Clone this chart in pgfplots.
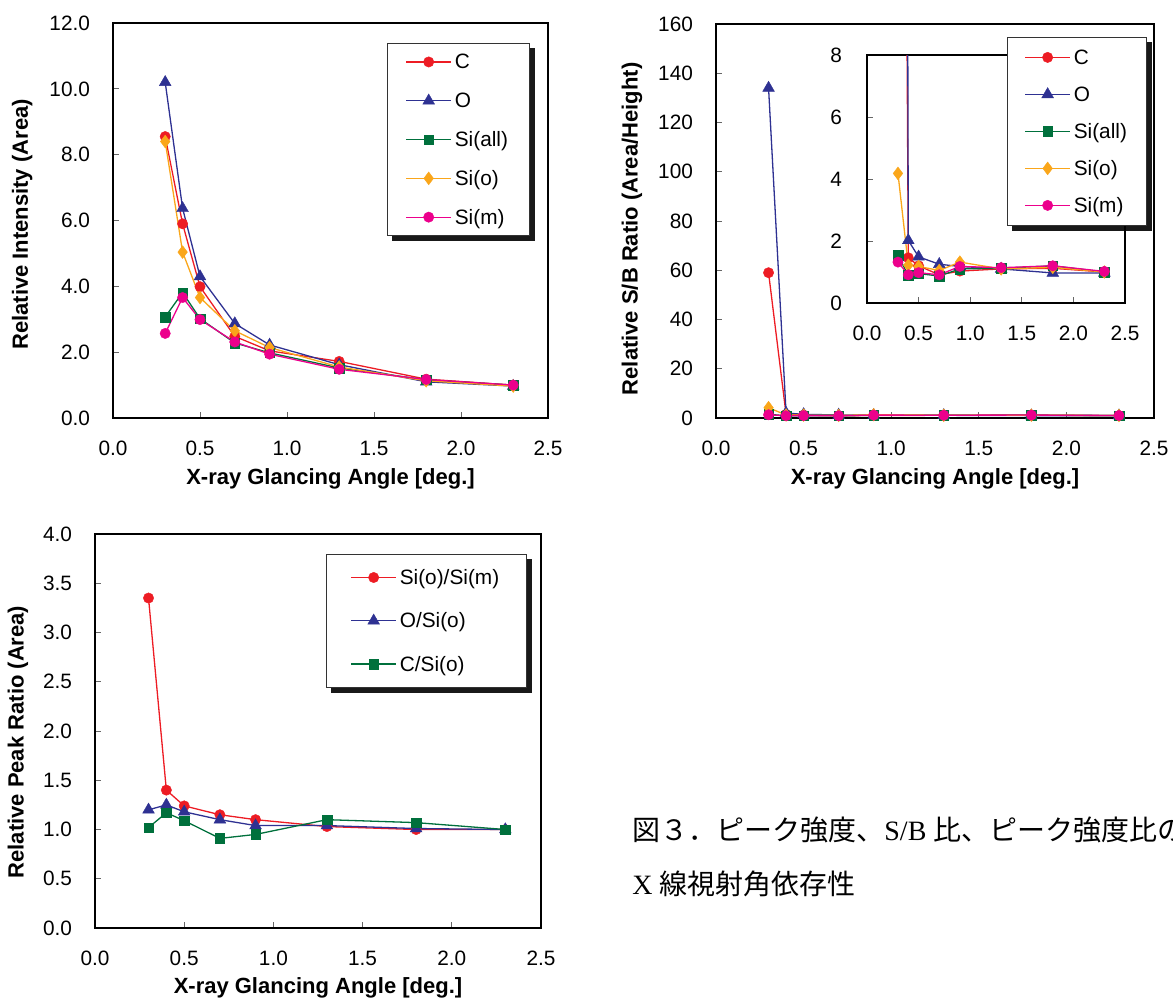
\documentclass[border=0pt]{standalone}
\usepackage{fontspec}
\setmainfont{Liberation Sans}
\newfontfamily\cjk{Noto Sans CJK JP}
\newfontfamily\latserif{Liberation Serif}
\usepackage{pgfplots}
\pgfplotsset{compat=1.18}
\usepackage{pgfplotstable}
\pgfdeclarelayer{background}
\pgfsetlayers{background,main}
\pgfkeys{/pgf/number format/assume math mode=true}

\definecolor{cC}{RGB}{237,28,36}
\definecolor{cO}{RGB}{46,49,146}
\definecolor{cSa}{RGB}{0,112,60}
\definecolor{cSo}{RGB}{250,166,26}
\definecolor{cSm}{RGB}{236,0,140}

\pgfplotstableread{
x   C     O     Sa    So    Sm
0.3 8.55 10.20 3.07 8.40 2.57
0.4 5.90  6.37 3.81 5.04 3.66
0.5 3.99  4.30 3.02 3.66 2.99
0.7 2.48  2.87 2.28 2.65 2.31
0.9 2.04  2.22 1.98 2.14 1.94
1.3 1.72  1.62 1.52 1.55 1.48
1.8 1.18  1.10 1.16 1.13 1.17
2.3 1.00  0.97 1.00 0.97 1.00
}\tabI

\pgfplotstableread{
x   C     O      Sa    So    Sm
0.3 59.0 134.0  1.54  4.18  1.32
0.4 1.46  2.02  0.89  1.22  0.91
0.5 1.20  1.49  0.95  1.18  0.98
0.7 0.91  1.25  0.87  1.05  0.91
0.9 1.03  1.18  1.10  1.32  1.18
1.3 1.10  1.10  1.12  1.10  1.14
1.8 1.12  0.97  1.20  1.15  1.20
2.3 1.00  0.97  1.00  1.00  1.02
}\tabSB

\pgfplotstableread{
x   A     B     Cc
0.3 3.35  1.20  1.02
0.4 1.40  1.25  1.17
0.5 1.24  1.18  1.09
0.7 1.15  1.10  0.91
0.9 1.10  1.04  0.95
1.3 1.03  1.04  1.10
1.8 1.00  1.01  1.07
2.3 1.00  1.00  1.00
}\tabR

\pgfplotsset{
  base/.style={
    scale only axis, axis line style={line width=0.75pt,black},
    tick align=inside, xtick pos=bottom, ytick pos=left, major tick length=3pt,
    tick style={gray!80!black, line width=0.5pt},
    xmin=0, xmax=2.5, xtick={0,0.5,1,1.5,2,2.5},
    tick label style={font=\fontsize{10.4}{12}\selectfont},
    x tick label style={yshift=-8pt, /pgf/number format/fixed, /pgf/number format/fixed zerofill, /pgf/number format/precision=1},
    y tick label style={xshift=-8pt},
    label style={font=\bfseries\fontsize{11}{13}\selectfont},
    legend cell align=left,
    legend image code/.code={\draw[mark repeat=2,mark phase=2,##1] plot coordinates {(0pt,0pt) (11.25pt,0pt) (22.5pt,0pt)};},
    legend style={draw=black!80, line width=0.5pt, fill=white, anchor=north west,
      font=\fontsize{10.4}{12}\selectfont,
      nodes={inner xsep=1.5pt, inner ysep=0pt},
      inner xsep=9pt, inner ysep=4.2pt, column sep=0pt},
  },
  yfix1/.style={y tick label style={/pgf/number format/fixed, /pgf/number format/fixed zerofill, /pgf/number format/precision=1}},
  sC/.style={color=cC, line width=0.65pt, mark=*, mark size=2.6pt, mark options={solid, fill=cC, draw=cC, line width=0.2pt}},
  sO/.style={color=cO, line width=0.65pt, mark=triangle*, mark size=3.4pt, mark options={solid, fill=cO, draw=cO, line width=0.2pt}},
  sSa/.style={color=cSa, line width=0.65pt, mark=square*, mark size=2.4pt, mark options={solid, fill=cSa, draw=cSa, line width=0.2pt}},
  sSo/.style={color=cSo, line width=0.65pt, mark=diamond*, mark size=3.2pt, mark options={solid, fill=cSo, draw=cSo, line width=0.2pt}},
  sSm/.style={color=cSm, line width=0.65pt, mark=*, mark size=2.6pt, mark options={solid, fill=cSm, draw=cSm, line width=0.2pt}},
}

\newcommand\legshadow[1]{%
  \begin{pgfonlayer}{background}
  \fill[black!90] ([xshift=2.5pt,yshift=-2.5pt]#1.south west) rectangle ([xshift=2.5pt,yshift=-2.5pt]#1.north east);
  \end{pgfonlayer}}

\begin{document}
\begin{tikzpicture}
\useasboundingbox (0,0) rectangle (586.5pt,-501.5pt);
\clip (0,0) rectangle (586.5pt,-501.5pt);

% ---------- Chart 1 ----------
\begin{axis}[base, yfix1, at={(56.5pt,-209pt)}, anchor=south west,
  width=217.5pt, height=197.5pt, ymin=0, ymax=12, ytick={0,2,4,6,8,10,12},
  xlabel={X-ray Glancing Angle [deg.]}, ylabel={Relative Intensity (Area)},
  xlabel style={at={(axis description cs:0.5,-0.154)}, anchor=center},
  ylabel style={at={(axis description cs:-0.209,0.49)}, anchor=center},
  legend style={name=LA, at={(axis description cs:0.63,0.949)}, row sep=9.5pt}]
\addplot[sC]  table[x=x,y=C]{\tabI};  \addlegendentry{\strut C}
\addplot[sO]  table[x=x,y=O]{\tabI};  \addlegendentry{\strut O}
\addplot[sSa] table[x=x,y=Sa]{\tabI}; \addlegendentry{\strut Si(all)}
\addplot[sSo] table[x=x,y=So]{\tabI}; \addlegendentry{\strut Si(o)}
\addplot[sSm] table[x=x,y=Sm]{\tabI}; \addlegendentry{\strut Si(m)}
\end{axis}
\legshadow{LA}

% ---------- Chart 2 main ----------
\begin{axis}[base, at={(358pt,-209pt)}, anchor=south west,
  width=219pt, height=197pt, ymin=0, ymax=160, ytick={0,20,40,60,80,100,120,140,160},
  xlabel={X-ray Glancing Angle [deg.]}, ylabel={Relative S/B Ratio (Area/Height)},
  xlabel style={at={(axis description cs:0.5,-0.155)}, anchor=center},
  ylabel style={at={(axis description cs:-0.192,0.48)}, anchor=center}]
\addplot[sC]  table[x=x,y=C]{\tabSB};
\addplot[sO]  table[x=x,y=O]{\tabSB};
\addplot[sSa] table[x=x,y=Sa]{\tabSB};
\addplot[sSo] table[x=x,y=So]{\tabSB};
\addplot[sSm] table[x=x,y=Sm]{\tabSB};
\end{axis}

% ---------- Chart 2 inset ----------
\begin{axis}[base, at={(433.5pt,-151.5pt)}, anchor=south west,
  width=129pt, height=124pt, ymin=0, ymax=8, ytick={0,2,4,6,8},
  y tick label style={xshift=-1pt},
  legend style={name=LB, at={(axis description cs:0.5426,1.0726)}, row sep=8.6pt, inner xsep=8.5pt, inner ysep=5pt}]
\addplot[sC]  table[x=x,y=C]{\tabSB};  \addlegendentry{\strut C}
\addplot[sO]  table[x=x,y=O]{\tabSB};  \addlegendentry{\strut O}
\addplot[sSa] table[x=x,y=Sa]{\tabSB}; \addlegendentry{\strut Si(all)}
\addplot[sSo] table[x=x,y=So]{\tabSB}; \addlegendentry{\strut Si(o)}
\addplot[sSm] table[x=x,y=Sm]{\tabSB}; \addlegendentry{\strut Si(m)}
\end{axis}
\legshadow{LB}

% ---------- Chart 3 ----------
\begin{axis}[base, yfix1, at={(47.5pt,-464pt)}, anchor=south west,
  width=223pt, height=197pt, ymin=0, ymax=4, ytick={0,0.5,1,1.5,2,2.5,3,3.5,4},
  xlabel={X-ray Glancing Angle [deg.]}, ylabel={Relative Peak Ratio (Area)},
  xlabel style={at={(axis description cs:0.5,-0.152)}, anchor=center},
  ylabel style={at={(axis description cs:-0.173,0.472)}, anchor=center},
  legend style={name=LC, at={(axis description cs:0.518,0.949)}, row sep=11.75pt, inner xsep=12pt, inner ysep=6.5pt}]
\addplot[sC]  table[x=x,y=A]{\tabR};  \addlegendentry{\strut Si(o)/Si(m)}
\addplot[sO]  table[x=x,y=B]{\tabR};  \addlegendentry{\strut O/Si(o)}
\addplot[sSa] table[x=x,y=Cc]{\tabR}; \addlegendentry{\strut C/Si(o)}
\end{axis}
\legshadow{LC}

% ---------- Caption ----------
\node[anchor=base west, inner sep=0pt, font=\fontsize{14}{16}\selectfont] at (316pt,-420pt)
  {\cjk 図３．ピーク強度、\latserif S/B \cjk 比、ピーク強度比の};
\node[anchor=base west, inner sep=0pt, font=\fontsize{14}{16}\selectfont] at (316pt,-447pt)
  {\latserif X \cjk 線視射角依存性};
\end{tikzpicture}
\end{document}
